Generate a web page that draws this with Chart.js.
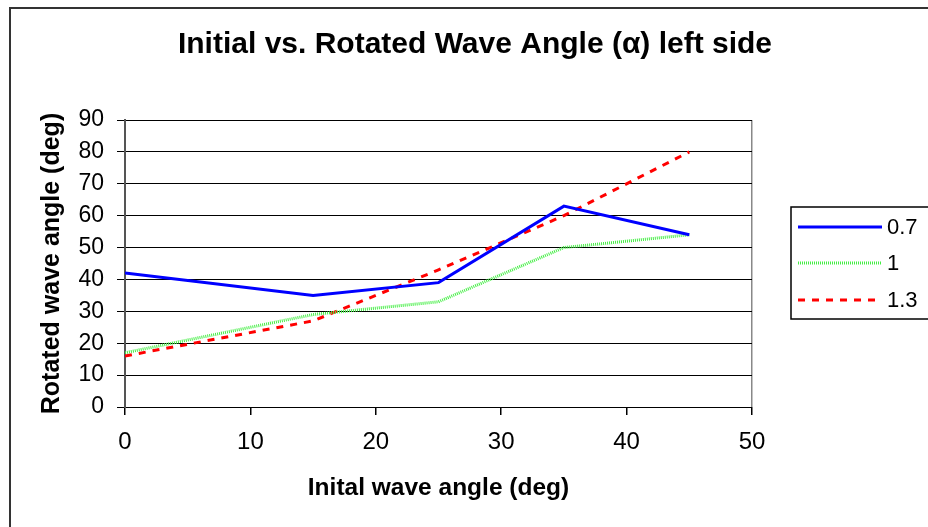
<!DOCTYPE html>
<html>
<head>
<meta charset="utf-8">
<script src="https://cdn.jsdelivr.net/npm/chart.js@4"></script>
<style>
  html, body { margin: 0; padding: 0; background: #fff; }
  #wrap { width: 928px; height: 527px; position: relative; }
</style>
</head>
<body>
<div id="wrap"><canvas id="myChart" width="928" height="527"></canvas></div>
<script>
// data
const xValues = [0, 15, 25, 35, 45];
const series07 = [42, 35, 39, 63, 54];
const series10 = [17, 29, 33, 50, 54];
const series13 = [16, 27, 43, 60, 80];
const seriesNames = ['0.7', '1', '1.3'];
const xTicks = [0, 10, 20, 30, 40, 50];
const yTicks = [0, 10, 20, 30, 40, 50, 60, 70, 80, 90];

const FONT = '"Liberation Sans", Arial, sans-serif';

function pts(ys) {
    return xValues.map((x, i) => ({ x: x, y: ys[i] }));
}

// outer frame + legend box drawn like the excel one
const framePlugin = {
    id: 'frame',
    afterDraw(chart) {
        const c = chart.ctx;
        c.save();
        c.strokeStyle = '#333';
        c.lineWidth = 2;
        c.strokeRect(10, 8, 1000, 1000);

        // legend
        c.lineWidth = 1.5;
        c.strokeStyle = '#000';
        c.strokeRect(791, 207, 200, 112);
        const rows = [227, 263, 300];
        chart.data.datasets.forEach((ds, i) => {
            c.beginPath();
            c.strokeStyle = ds.borderColor;
            c.lineWidth = ds.borderWidth;
            c.setLineDash(ds.borderDash || []);
            c.moveTo(798, rows[i]);
            c.lineTo(882, rows[i]);
            c.stroke();
            c.setLineDash([]);
            c.fillStyle = '#000';
            c.font = '22px ' + FONT;
            c.textBaseline = 'middle';
            c.textAlign = 'left';
            c.fillText(ds.label, 887, rows[i] + 1);
        });
        c.restore();
    }
};

const ctx = document.getElementById('myChart').getContext('2d');
const myChart = new Chart(ctx, {
    type: 'line',
    data: {
        datasets: [{
            label: seriesNames[0],
            data: pts(series07),
            borderColor: '#0000ff',
            borderWidth: 3,
            pointRadius: 0
        }, {
            label: seriesNames[1],
            data: pts(series10),
            borderColor: '#44ee44',
            borderWidth: 3,
            borderDash: [1, 1],
            pointRadius: 0
        }, {
            label: seriesNames[2],
            data: pts(series13),
            borderColor: '#ff0000',
            borderWidth: 3,
            borderDash: [7, 7],
            pointRadius: 0
        }]
    },
    options: {
        responsive: false,
        animation: false,
        layout: { padding: { left: 22, right: 0, top: 0, bottom: 0 } },
        plugins: {
            legend: { display: false },
            tooltip: { enabled: false },
            title: {
                display: true,
                text: 'Initial vs. Rotated Wave Angle (α) left side',
                color: '#000',
                font: { family: FONT, size: 30, weight: 'bold' },
                padding: { top: 27, bottom: 57 }
            }
        },
        scales: {
            x: {
                type: 'linear',
                min: 0,
                max: 50,
                afterBuildTicks: (s) => { s.ticks = xTicks.map(v => ({ value: v })); },
                afterFit: (s) => { s.height = 120; },
                grid: {
                    color: (c) => c.tick && c.tick.value === 50 ? '#888' : 'rgba(0,0,0,0)',
                    tickColor: '#000',
                    tickLength: 8,
                    lineWidth: 1.5
                },
                border: { color: '#000', width: 1 },
                ticks: {
                    color: '#000',
                    padding: 13,
                    maxRotation: 0,
                    font: { family: FONT, size: 24 }
                },
                title: {
                    display: true,
                    text: 'Inital wave angle (deg)',
                    color: '#000',
                    font: { family: FONT, size: 24.5, weight: 'bold' },
                    padding: { top: 0, bottom: 24 }
                }
            },
            y: {
                min: 0,
                max: 90,
                afterBuildTicks: (s) => { s.ticks = yTicks.map(v => ({ value: v })); },
                afterFit: (s) => { s.width = 103; },
                grid: {
                    color: '#000',
                    tickColor: '#000',
                    tickLength: 8,
                    lineWidth: 1
                },
                border: { color: '#555', width: 2 },
                ticks: {
                    color: '#000',
                    padding: 13,
                    font: { family: FONT, size: 23 }
                },
                title: {
                    display: true,
                    text: 'Rotated wave angle (deg)',
                    color: '#000',
                    font: { family: FONT, size: 25, weight: 'bold' },
                    padding: { top: 15, bottom: 0 }
                }
            },
            // empty axis on the right just to keep room for the legend
            spare: {
                type: 'linear',
                position: 'right',
                min: 0,
                max: 90,
                afterFit: (s) => { s.width = 176; },
                grid: { display: false, drawTicks: false },
                border: { display: false },
                ticks: { display: false }
            }
        }
    },
    plugins: [framePlugin]
});
</script>
</body>
</html>
